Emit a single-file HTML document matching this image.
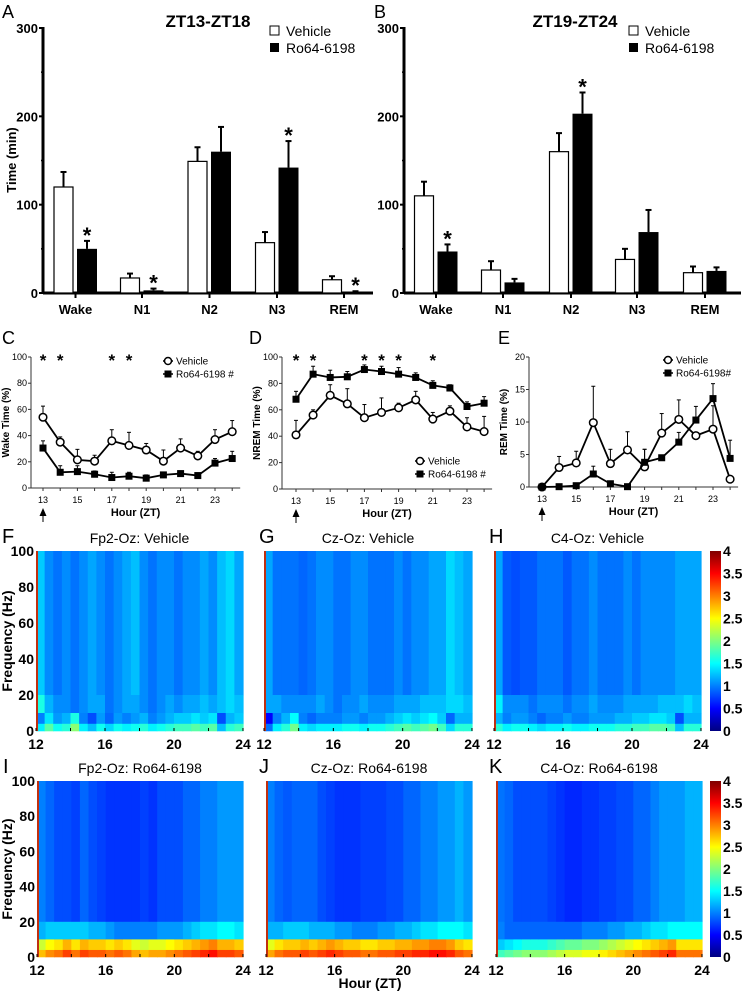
<!DOCTYPE html>
<html><head><meta charset="utf-8">
<style>
body{margin:0;background:#fff;}
svg{display:block;font-family:"Liberation Sans",Arial,sans-serif;}
</style></head>
<body>
<svg id="fig" width="744" height="994" viewBox="0 0 744 994" xmlns="http://www.w3.org/2000/svg"></svg>
<script>
// ---------- Bar chart data ----------
const barCats = ['Wake','N1','N2','N3','REM'];
const aVeh = [120,17,149,57,15];
const aVehErr = [17,5,16,12,4];
const aDrug = [50,3,160,142,1];
const aDrugErr = [9,2,28,30,1];
const aStar = [1,1,0,1,1];
const bVeh = [110,26,160,38,23];
const bVehErr = [16,10,21,12,7];
const bDrug = [47,12,203,69,25];
const bDrugErr = [8,4,24,25,4];
const bStar = [1,0,1,0,0];
const barTicks = [0,100,200,300];

// ---------- Line chart data ----------
const hours = [13,14,15,16,17,18,19,20,21,22,23,24];
const cVeh = [54,35,21.5,20.5,36,32.5,29,20.5,30.5,24.5,37,43];
const cVehErr = [8.5,4,8,4.5,8.5,10,5,8.5,7,3.5,7.5,8.5];
const cDrug = [30.5,12,12.5,10.5,8,9,7.5,10,11,9.5,19,22.5];
const cDrugErr = [5.5,5,4.5,2.5,4,3,2.5,1,1.5,1.5,3.5,5.5];
const cStars = [13,14,17,18];
const dVeh = [41,56,71,64.5,54,58,61.5,67.5,53,59,47,43.5];
const dVehErr = [11,4,8,11.5,10,11,3.5,6.5,5,4,7,11.5];
const dDrug = [68,87,84.5,85,90.5,89,87,84.5,78.5,76.5,62.5,65];
const dDrugErr = [6,6,5.5,4,3.5,4,5,3.5,3.5,2.5,3.5,5];
const dStars = [13,14,17,18,19,21];
const eVeh = [0,3,3.7,9.9,3.6,5.7,3.1,8.3,10.4,7.9,8.9,1.2];
const eVehErr = [0,1.7,1.8,5.6,2.2,2.8,2.7,3,3,0,3.6,0];
const eDrug = [0,0.05,0.2,2.0,0.5,0.05,3.8,4.5,6.9,10.3,13.6,4.4];
const eDrugErr = [0,0,0,1.2,0,0,2,0,1.5,2.1,2.3,2.8];
const yTicksPct = [0,20,40,60,80,100];
const yTicksRem = [0,5,10,15,20];
const xTickLabels = [13,15,17,19,21,23];

// ---------- Spectrogram data (0-4 scale, 24 half-hour bins) ----------
const fHi = [1.3,1.05,0.95,1.05,0.95,1.05,1.15,1.05,0.95,1.05,1.15,1.25,1.05,0.95,1.05,1.05,0.95,1.05,1.05,1.15,1.05,1.25,1.35,1.15];
const fMid = [1.6,1.2,1.05,1.05,0.95,1.05,1.15,1.15,0.95,1.05,1.15,1.15,1.05,0.95,1.05,1.15,1.05,1.15,1.15,1.25,1.15,1.25,1.35,1.25];
const fLo = [1.2,1.6,1.3,1.4,1.8,1.2,1.0,1.3,1.1,1.3,1.2,1.3,1.4,1.2,1.3,1.4,1.5,1.5,1.6,1.5,1.6,1.0,1.4,1.5];
const gHi = [1.15,0.95,0.95,0.95,0.9,0.95,1.05,1.05,0.95,0.95,1.05,1.05,0.95,0.95,0.95,1.05,0.95,1.05,1.05,1.15,1.15,1.35,1.25,1.15];
const gMid = [1.15,1.15,1.05,1.05,1.05,1.05,1.15,1.05,0.95,1.05,1.05,1.15,1.05,1.05,1.05,1.15,1.15,1.15,1.25,1.25,1.25,1.35,1.35,1.25];
const gLo = [0.7,1.2,1.4,1.7,1.2,1.1,1.2,1.2,1.2,1.3,1.3,1.2,1.3,1.3,1.4,1.5,1.6,1.5,1.6,1.7,1.5,1.1,1.4,1.4];
const hHi = [1.15,0.85,0.8,0.85,0.85,0.95,0.95,0.95,0.85,0.95,0.95,1.05,0.95,0.95,0.95,1.05,0.95,1.05,1.05,1.05,1.05,1.15,1.15,1.15];
const hMid = [1.45,1.05,1.05,1.05,0.95,1.05,1.05,1.05,0.95,1.05,1.05,1.15,1.05,1.05,1.05,1.15,1.15,1.15,1.15,1.25,1.25,1.25,1.35,1.25];
const hLo = [1.4,1.2,1.3,1.3,1.2,1.1,1.2,1.2,1.3,1.2,1.2,1.3,1.3,1.3,1.4,1.4,1.5,1.5,1.6,1.6,1.5,1.0,1.4,1.4];
const iHi = [1.0,0.9,0.8,0.8,0.75,0.9,0.8,0.75,0.7,0.7,0.7,0.7,0.75,0.7,0.8,0.8,0.8,0.9,0.9,1.0,1.0,1.1,1.1,1.1];
const iMid = [1.2,1.3,1.3,1.3,1.3,1.3,1.2,1.2,1.1,1.0,1.0,1.0,1.0,1.0,1.1,1.1,1.1,1.2,1.3,1.4,1.4,1.5,1.5,1.4];
const iLo = [2.5,2.7,2.8,3.0,2.8,3.0,2.9,2.9,2.8,2.9,2.8,2.6,2.5,2.6,2.6,2.7,2.8,2.9,3.0,3.1,3.2,3.0,3.0,2.9];
const jHi = [1.0,0.9,0.85,0.9,0.9,0.9,0.8,0.75,0.7,0.7,0.7,0.75,0.75,0.75,0.8,0.8,0.9,0.9,1.0,1.0,1.1,1.1,1.2,1.1];
const jMid = [1.2,1.2,1.3,1.3,1.3,1.2,1.2,1.2,1.1,1.1,1.0,1.0,1.0,1.1,1.1,1.2,1.2,1.3,1.4,1.4,1.5,1.5,1.5,1.4];
const jLo = [2.6,2.8,2.9,2.9,3.0,2.9,3.0,3.1,3.0,2.9,2.9,2.8,2.8,2.9,2.9,3.0,3.0,3.1,3.1,3.2,3.2,3.1,2.9,2.8];
const kHi = [0.95,0.9,0.8,0.8,0.8,0.8,0.75,0.7,0.65,0.65,0.7,0.7,0.75,0.75,0.8,0.8,0.9,0.9,1.0,1.1,1.1,1.1,1.2,1.2];
const kMid = [1.0,0.9,0.9,0.9,0.9,0.9,0.9,0.9,0.9,0.9,1.0,1.0,1.0,1.1,1.1,1.2,1.2,1.3,1.4,1.4,1.5,1.5,1.5,1.5];
const kLo = [1.5,1.6,1.7,1.8,1.8,1.8,1.9,2.0,2.1,2.1,2.2,2.2,2.3,2.4,2.5,2.6,2.7,2.8,2.9,3.0,3.1,2.8,2.8,2.8];
const cbTicks = [0,0.5,1,1.5,2,2.5,3,3.5,4];
const specXTicks = [12,16,20,24];
const specYTicks = [0,20,40,60,80,100];

const NS='http://www.w3.org/2000/svg';
const svg=document.getElementById('fig');
function el(tag,attrs,parent,text){const e=document.createElementNS(NS,tag);for(const k in attrs)e.setAttribute(k,attrs[k]);if(text!==undefined)e.textContent=text;(parent||svg).appendChild(e);return e;}

function label(x,y,t,size,anchor,bold,name){
  const e=el('text',{x:x,y:y,'font-size':size,'text-anchor':anchor||'start','font-weight':bold?'bold':'normal'},svg,t);
  
  
  return e;
}

// ---------- Bar charts ----------
function barChart(ax,centers,veh,vehErr,drug,drugErr,stars,title,titleX,legX,panelLetter,letterX,showY){
  const g=el('g',{});
  
  
  const y=v=>293-v*(265/300);
  label(letterX,18,panelLetter,18,'start',false,'panel-label-'+panelLetter.toLowerCase());
  label(titleX,27,title,17,'middle',true,'chart-title-'+panelLetter.toLowerCase());
  el('line',{x1:ax,y1:27,x2:ax,y2:294,stroke:'#000','stroke-width':3},g);
  el('line',{x1:ax,y1:293,x2:ax+ (panelLetter==='A'?330:337),y2:293,stroke:'#000','stroke-width':3},g);
  barTicks.forEach(t=>{
    el('line',{x1:ax-4,y1:y(t),x2:ax,y2:y(t),stroke:'#000','stroke-width':2},g);
    label(ax-5,y(t)+5,String(t),13,'end',true,'y-tick-label');
  });
  [50,150,250].forEach(t=>el('line',{x1:ax-2,y1:y(t),x2:ax,y2:y(t),stroke:'#000','stroke-width':1.5},g));
  if(showY){const t=label(16,160,'Time (min)',13,'middle',true,'y-axis-title');t.setAttribute('transform','rotate(-90 16 160)');}
  centers.forEach((c,i)=>{
    el('line',{x1:c,y1:293,x2:c,y2:298,stroke:'#000','stroke-width':2},g);
    label(c,314,barCats[i],13,'middle',true,'x-category-label');
    const vx=c-21.5, dx=c+1.5;
    const r1=el('rect',{x:vx,y:y(veh[i]),width:19,height:293-y(veh[i]),fill:'#fff',stroke:'#000','stroke-width':1.2},g);
    
    
    el('line',{x1:vx+9.5,y1:y(veh[i]),x2:vx+9.5,y2:y(veh[i]+vehErr[i]),stroke:'#000','stroke-width':2},g);
    el('line',{x1:vx+6.5,y1:y(veh[i]+vehErr[i]),x2:vx+12.5,y2:y(veh[i]+vehErr[i]),stroke:'#000','stroke-width':2},g);
    const r2=el('rect',{x:dx,y:y(drug[i]),width:20,height:Math.max(1.5,293-y(drug[i])),fill:'#000'},g);
    
    
    el('line',{x1:dx+10,y1:y(drug[i]),x2:dx+10,y2:y(drug[i]+drugErr[i]),stroke:'#000','stroke-width':2},g);
    el('line',{x1:dx+7,y1:y(drug[i]+drugErr[i]),x2:dx+13,y2:y(drug[i]+drugErr[i]),stroke:'#000','stroke-width':2},g);
    if(stars[i]) label(dx+10,y(drug[i]+drugErr[i])+2,'*',22,'middle',true,'significance-star');
  });
  const l1=el('rect',{x:legX,y:26,width:9,height:9,fill:'#fff',stroke:'#000','stroke-width':1},g);
  
  label(legX+16,36,'Vehicle',14,'start',false,'legend-vehicle');
  const l2=el('rect',{x:legX,y:43,width:9,height:9,fill:'#000'},g);
  
  label(legX+16,53,'Ro64-6198',14,'start',false,'legend-drug');
}
barChart(43,[75.5,142,209.5,277,344],aVeh,aVehErr,aDrug,aDrugErr,aStar,'ZT13-ZT18',208,270,'A',2,true);
barChart(404,[436,503,571,637,705],bVeh,bVehErr,bDrug,bDrugErr,bStar,'ZT19-ZT24',575,629,'B',374,false);

// ---------- Line charts ----------
function lineChart(o){
  const g=el('g',{});
  
  
  const x=h=>o.x13+(h-13)*(o.x23-o.x13)/10;
  const y=v=>o.y0-(v/o.ymax)*(o.y0-o.ytop);
  label(o.lx,344,o.letter,18,'start',false,'panel-label-'+o.letter.toLowerCase());
  el('line',{x1:o.ax,y1:o.ytop,x2:o.ax,y2:o.y0,stroke:'#333','stroke-width':1},g);
  el('line',{x1:o.ax,y1:o.y0,x2:x(24)+8,y2:o.y0,stroke:'#333','stroke-width':1},g);
  o.yt.forEach(t=>{
    el('line',{x1:o.ax-3,y1:y(t),x2:o.ax,y2:y(t),stroke:'#333'},g);
    label(o.ax-4,y(t)+3,String(t),9,'end',false,'y-tick-label');
  });
  hours.forEach(h=>el('line',{x1:x(h),y1:o.y0,x2:x(h),y2:o.y0+3,stroke:'#333'},g));
  xTickLabels.forEach(h=>label(x(h),o.y0+15,String(h),9,'middle',false,'x-tick-label'));
  label((o.ax+x(24))/2+4,o.y0+28,'Hour (ZT)',11,'middle',true,'x-axis-title');
  const ty=(o.ytop+o.y0)/2; const tt=label(o.ax-22,ty,o.ytitle,10,'middle',true,'y-axis-title');
  tt.setAttribute('transform','rotate(-90 '+(o.ax-22)+' '+ty+')');
  const ar=el('path',{d:`M${x(13)} ${o.y0+20} l-3.5 8 l3 0 l0 6 l1 0 l0 -6 l3 0 z`,fill:'#000'},g);
  
  function series(vals,errs,kind){
    vals.forEach((v,i)=>{ if(errs[i]>0){
      el('line',{x1:x(hours[i]),y1:y(v),x2:x(hours[i]),y2:y(v+errs[i]),stroke:'#000','stroke-width':1},g);
      el('line',{x1:x(hours[i])-2,y1:y(v+errs[i]),x2:x(hours[i])+2,y2:y(v+errs[i]),stroke:'#000','stroke-width':1},g);}});
    const pl=el('polyline',{points:vals.map((v,i)=>x(hours[i])+','+y(v)).join(' '),fill:'none',stroke:'#000','stroke-width':1.8},g);
    
    vals.forEach((v,i)=>{
      let m;
      if(kind==='vehicle') m=el('circle',{cx:x(hours[i]),cy:y(v),r:3.8,fill:'#fff',stroke:'#000','stroke-width':1.5},g);
      else m=el('rect',{x:x(hours[i])-3.5,y:y(v)-3.5,width:7,height:7,fill:'#000'},g);
      
    });
  }
  series(o.veh,o.vehErr,'vehicle');
  series(o.drug,o.drugErr,'drug');
  o.stars.forEach(h=>label(x(h),o.ytop+9,'*',17,'middle',true,'significance-star'));
  const lx=o.legX, ly=o.legY;
  el('line',{x1:lx-5,y1:ly,x2:lx+5,y2:ly,stroke:'#000','stroke-width':1.5},g);
  el('circle',{cx:lx,cy:ly,r:3.5,fill:'#fff',stroke:'#000','stroke-width':1.5},g);
  label(lx+8,ly+3.5,'Vehicle',10,'start',false,'legend-vehicle');
  el('line',{x1:lx-5,y1:ly+13,x2:lx+5,y2:ly+13,stroke:'#000','stroke-width':1.5},g);
  el('rect',{x:lx-3.5,y:ly+9.5,width:7,height:7,fill:'#000'},g);
  label(lx+8,ly+16.5,o.drugLabel,10,'start',false,'legend-drug');
}
lineChart({letter:'C',lx:2,ax:31,x13:43,x23:215,y0:488,ytop:357,ymax:100,yt:yTicksPct,ytitle:'Wake Time (%)',veh:cVeh,vehErr:cVehErr,drug:cDrug,drugErr:cDrugErr,stars:cStars,legX:168,legY:361,drugLabel:'Ro64-6198 #'});
lineChart({letter:'D',lx:249,ax:282,x13:296,x23:467,y0:489,ytop:357,ymax:100,yt:yTicksPct,ytitle:'NREM Time (%)',veh:dVeh,vehErr:dVehErr,drug:dDrug,drugErr:dDrugErr,stars:dStars,legX:420,legY:461,drugLabel:'Ro64-6198 #'});
lineChart({letter:'E',lx:498,ax:529,x13:542,x23:713,y0:487,ytop:357,ymax:20,yt:yTicksRem,ytitle:'REM Time (%)',veh:eVeh,vehErr:eVehErr,drug:eDrug,drugErr:eDrugErr,stars:[],legX:668,legY:360,drugLabel:'Ro64-6198#'});

// ---------- Spectrograms ----------
function jet(v){const t=Math.max(0,Math.min(1,v/4));
  const c=f=>Math.round(255*Math.max(0,Math.min(1,1.5-Math.abs(4*t-f))));
  return `rgb(${c(3)},${c(2)},${c(1)})`;}
function spectro(x0,x1,yTop,yBot,hi,mid,lo,letter,title,lx,showY){
  const g=el('g',{});
  
  
  const X=h=>x0+(h-12)*(x1-x0)/12;
  const Y=f=>yBot-f*(yBot-yTop)/100;
  label(lx,yTop-8,letter,20,'start',false,'panel-label-'+letter.toLowerCase());
  label((x0+x1)/2,yTop-8,title,14,'middle',false,'spectrogram-title');
  const n=hi.length, w=(x1-x0)/n;
  for(let i=0;i<n;i++){
    const bx=x0+i*w;
    [[20,100,hi[i]],[10,20,mid[i]],[4,10,lo[i]-0.2],[0,4,lo[i]+0.25]].forEach(([f0,f1,v])=>{
      const r=el('rect',{x:bx,y:Y(f1),width:w+0.6,height:Y(f0)-Y(f1)+0.3,fill:jet(v)},g);
      
    });
  }
  el('rect',{x:x0,y:yTop,width:2,height:yBot-yTop,fill:'#c03010'},g);
  if(showY){
    specYTicks.forEach(t=>label(x0-2,Y(t)+5,String(t),14,'end',true,'y-tick-label'));
    const cy=(yTop+yBot)/2; const t=label(12,cy,'Frequency (Hz)',14,'middle',true,'y-axis-title');
    t.setAttribute('transform','rotate(-90 12 '+cy+')');
  }
  for(let h=12;h<=24;h+=2) el('line',{x1:X(h),y1:yBot,x2:X(h),y2:yBot-3,stroke:'#000'},g);
  specXTicks.forEach(h=>label(X(h),yBot+18,String(h),14,'middle',true,'x-tick-label'));
}
function colorbar(yTop,yBot){
  const g=el('g',{});
  
  const gid='cb'+yTop;
  const lg=el('linearGradient',{id:gid,x1:0,y1:1,x2:0,y2:0},el('defs',{},g));
  [0,0.125,0.375,0.625,0.875,1].forEach((s)=>el('stop',{offset:s,'stop-color':jet(s*4)},lg));
  el('rect',{x:710,y:yTop,width:11,height:yBot-yTop,fill:`url(#${gid})`},g);
  cbTicks.forEach(t=>label(723,yBot-t*(yBot-yTop)/4+5,String(t),14,'start',true,'colorbar-tick-label'));
}
spectro(36,243,551,731,fHi,fMid,fLo,'F','Fp2-Oz: Vehicle',2,true);
spectro(264,472,551,731,gHi,gMid,gLo,'G','Cz-Oz: Vehicle',259,false);
spectro(494,701,551,731,hHi,hMid,hLo,'H','C4-Oz: Vehicle',489,false);
colorbar(551,731);
spectro(37,243,781,957,iHi,iMid,iLo,'I','Fp2-Oz: Ro64-6198',3,true);
spectro(266,472,781,957,jHi,jMid,jLo,'J','Cz-Oz: Ro64-6198',259,false);
spectro(496,702,781,957,kHi,kMid,kLo,'K','C4-Oz: Ro64-6198',489,false);
colorbar(781,957);
label(370,988,'Hour (ZT)',14,'middle',true,'x-axis-title');
</script>
</body></html>
